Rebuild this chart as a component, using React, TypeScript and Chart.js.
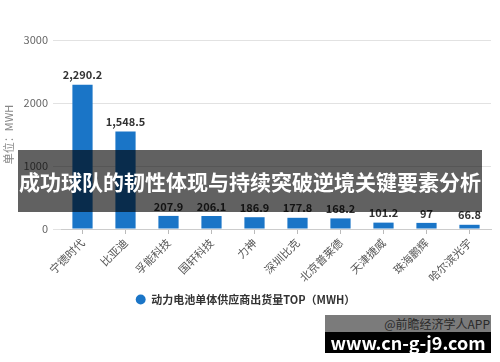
import React, { useEffect, useRef } from "react";
import { Chart, registerables } from "chart.js";

Chart.register(...registerables);

const categories = ["宁德时代", "比亚迪", "孚能科技", "国轩科技", "力神", "深圳比克", "北京普莱德", "天津捷威", "珠海鹏辉", "哈尔滨光宇"];
const shipments = [2290.2, 1548.5, 207.9, 206.1, 186.9, 177.8, 168.2, 101.2, 97, 66.8];
const yMin = 0;
const yMax = 3000;
const yStep = 1000;
const seriesLabel = "动力电池单体供应商出货量TOP（MWH）";
const axisTitle = "单位：MWH";
const bannerText = "成功球队的韧性体现与持续突破逆境关键要素分析";
const sourceText = "@前瞻经济学人APP";
const siteText = "www.cn-g-j9.com";

const FONT = "'Noto Sans CJK SC', 'Noto Sans', sans-serif";
const BLUE = "#1a75c7";

const valueLabels = {
  id: "valueLabels",
  afterDatasetsDraw(chart: any) {
    const ctx = chart.ctx;
    const meta = chart.getDatasetMeta(0);
    ctx.save();
    ctx.font = `bold 11px ${FONT}`;
    ctx.fillStyle = "#333333";
    ctx.textAlign = "center";
    ctx.textBaseline = "bottom";
    meta.data.forEach((bar: any, i: number) => {
      const v = shipments[i];
      ctx.fillText(v.toLocaleString("en-US", { maximumFractionDigits: 1 }), bar.x, bar.y - 4);
    });
    ctx.restore();
  },
};

export default function App() {
  const ref = useRef<HTMLCanvasElement>(null);

  useEffect(() => {
    if (!ref.current) return;
    const chart = new Chart(ref.current, {
      type: "bar",
      data: {
        labels: categories,
        datasets: [
          {
            label: seriesLabel,
            data: shipments,
            backgroundColor: BLUE,
            borderWidth: 0,
            barPercentage: 0.47,
            categoryPercentage: 1,
          },
        ],
      },
      options: {
        responsive: false,
        animation: false,
        layout: { padding: { top: 40, left: 0, right: 9, bottom: 47 } },
        plugins: {
          tooltip: { enabled: false },
          legend: {
            display: true,
            position: "bottom",
            labels: {
              usePointStyle: true,
              pointStyle: "circle",
              boxWidth: 10,
              boxHeight: 7,
              padding: 10,
              color: "#333333",
              font: { family: FONT, size: 11, weight: "bold" },
            },
          },
        },
        scales: {
          x: {
            grid: {
              display: true,
              drawOnChartArea: false,
              drawTicks: true,
              tickLength: 5,
              offset: false,
              color: "#bbbbbb",
            },
            border: { display: true, color: "#cccccc" },
            ticks: {
              minRotation: 45,
              maxRotation: 45,
              autoSkip: false,
              padding: 2,
              color: "#555555",
              font: { family: FONT, size: 11 },
            },
            afterFit: (scale: any) => {
              scale.height = 55;
            },
          },
          y: {
            min: yMin,
            max: yMax,
            grid: {
              color: "#e2e2e2",
              drawTicks: true,
              tickLength: 8,
            },
            border: { display: false },
            ticks: {
              stepSize: yStep,
              padding: 5,
              color: "#666666",
              font: { family: FONT, size: 11 },
              callback: (v: any) => String(v),
            },
            title: {
              display: true,
              text: axisTitle,
              color: "#888888",
              font: { family: FONT, size: 11 },
              padding: { top: 2, bottom: 0 },
            },
            afterFit: (scale: any) => {
              scale.width = 61;
            },
          },
        },
      },
      plugins: [valueLabels],
    });
    return () => chart.destroy();
  }, []);

  return (
    <div style={{ position: "absolute", left: 0, top: 0, width: 500, height: 362, background: "#ffffff", overflow: "hidden" }}>
      <canvas ref={ref} width={500} height={362} style={{ position: "absolute", left: 0, top: 0 }} />
      <div
        style={{
          position: "absolute",
          left: 18,
          top: 150,
          width: 464,
          height: 62,
          background: "rgba(0,0,0,0.62)",
          color: "#ffffff",
          fontFamily: FONT,
          fontWeight: "bold",
          fontSize: 21,
          lineHeight: "62px",
          textAlign: "center",
          whiteSpace: "nowrap",
        }}
      >
        {bannerText}
      </div>
      <div
        style={{
          position: "absolute",
          left: 325,
          top: 315,
          width: 166,
          height: 17,
          background: "#7b7b7b",
          color: "#2a2a2a",
          fontFamily: FONT,
          fontSize: 12,
          lineHeight: "17px",
          textAlign: "right",
          whiteSpace: "nowrap",
          boxSizing: "border-box",
          paddingRight: 1,
        }}
      >
        {sourceText}
      </div>
      <div
        style={{
          position: "absolute",
          left: 325,
          top: 332,
          width: 166,
          height: 21,
          background: "#000000",
          color: "#ffffff",
          fontFamily: FONT,
          fontWeight: "bold",
          fontSize: 18,
          lineHeight: "20px",
          textAlign: "center",
          whiteSpace: "nowrap",
        }}
      >
        {siteText}
      </div>
    </div>
  );
}
